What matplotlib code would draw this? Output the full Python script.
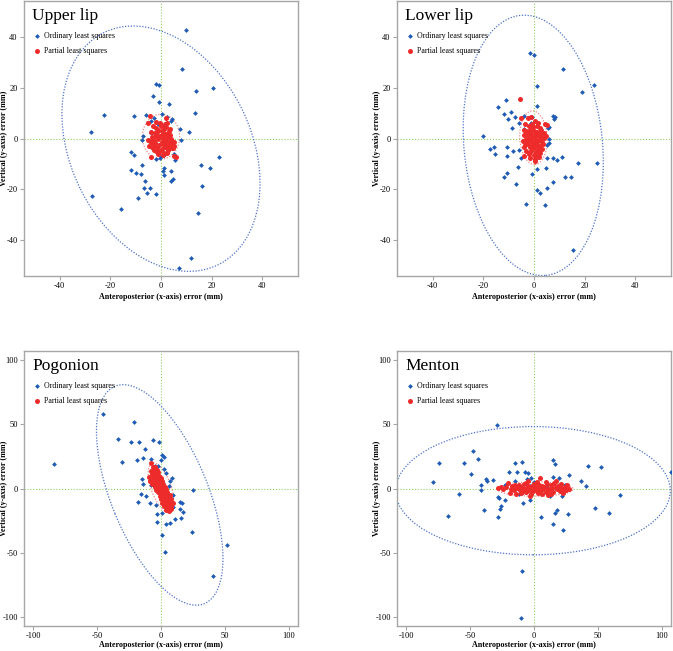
import numpy as np
import matplotlib
matplotlib.use("Agg")
import matplotlib.pyplot as plt
from matplotlib.patches import Ellipse

plt.rcParams['font.family'] = ['Liberation Serif', 'DejaVu Serif']
plt.rcParams['axes.unicode_minus'] = False

# ---- data (x, y) errors in mm ----
upper_ols = [(9.9, 42.6), (8.1, 27.1), (-1.8, 21.3), (-0.7, 20.9), (13.7, 18.8), (20.3, 20.0),
             (-3.0, 16.6), (-0.8, 14.2), (3.1, 13.6), (-22.5, 9.3), (-10.5, 8.8), (-6.0, 9.4),
             (13.5, 10.2), (0.3, 9.8), (2.2, 8.6), (4.2, 7.5), (3.9, 6.9), (-3.8, 6.8), (7.3, 3.9),
             (11.1, 2.4), (-27.6, 2.7), (-7.1, 0.8), (-7.6, -0.7), (7.8, -0.7), (-12.0, -5.2),
             (-10.6, -6.3), (23.0, -7.2), (5.0, -5.9), (5.4, -8.5), (1.2, -6.3), (-0.4, -7.5),
             (-7.3, -10.3), (15.7, -10.3), (19.5, -11.5), (-12.0, -12.3), (0.8, -12.7), (1.2, -11.4),
             (3.9, -12.8), (-9.8, -13.7), (-8.0, -14.0), (1.0, -14.4), (4.8, -16.1), (3.9, -16.6),
             (-6.3, -16.6), (16.1, -18.8), (-6.7, -19.3), (-4.4, -19.3), (-5.4, -21.4), (-2.0, -21.7),
             (-9.2, -23.4), (-27.1, -22.6), (-15.7, -27.8), (14.6, -29.2), (12.0, -47.1), (7.1, -50.7),
             (-2.7, 8.0), (-1.2, 5.6), (-1.0, 3.0), (2.0, -2.0), (-3.0, -4.0), (1.0, 5.0), (-4.0, 2.0),
             (3.0, 1.0), (0.0, -7.0), (-2.0, -8.0)]
upper_pls = [(-4.4, 9.0), (1.8, 8.2), (-1.8, 6.5), (-5.0, 6.0), (-3.8, -7.1), (5.2, -6.9), (5.8, -7.3),
             (5.0, -2.9), (5.2, -1.2), (2.5, -5.8), (-3.0, 5.0), (-2.0, 4.2), (-1.0, 3.5), (0.0, 4.8),
             (1.0, 3.8), (2.0, 4.5), (3.0, 3.0), (-4.0, 2.5), (-2.5, 2.0), (0.5, 2.8), (1.5, 1.8),
             (2.8, 2.2), (3.5, 1.5), (-3.5, 0.5), (-1.5, 1.0), (-0.5, 0.8), (0.8, 0.2), (2.2, 0.6),
             (4.0, 0.0), (-5.2, -0.5), (-4.5, -1.0), (-2.8, -0.8), (-1.2, -0.3), (0.3, -1.5), (1.2, -0.6),
             (2.5, -1.2), (3.8, -0.9), (4.5, -2.0), (-3.2, -2.2), (-2.2, -1.8), (-0.8, -2.6), (0.6, -2.0),
             (1.8, -2.8), (3.2, -2.4), (-4.8, -3.0), (-3.6, -3.5), (-2.4, -3.2), (-1.4, -3.8), (0.2, -4.0),
             (1.4, -3.4), (2.6, -4.2), (4.2, -3.6), (-2.0, -5.0), (-0.2, -4.8), (1.0, -5.5), (2.9, -4.4),
             (-3.0, 0.3), (-1.6, 2.4), (0.4, 1.2), (2.0, -0.2), (3.4, 3.6), (-1.0, -6.0), (0.9, -6.5),
             (-2.6, -4.6), (1.6, 5.6), (-0.4, 6.0), (2.4, 6.2), (-3.8, -1.4), (4.8, -3.6), (-1.8, 1.4)]

lower_ols = [(-1.7, 33.5), (-0.1, 32.7), (11.6, 27.1), (23.7, 20.9), (1.2, 20.8), (19.0, 18.4),
             (-11.0, 15.0), (-14.0, 12.2), (1.2, 12.7), (-12.0, 9.8), (-9.2, 10.6), (-10.2, 7.8),
             (-7.6, 8.5), (-4.1, 9.0), (-0.8, 8.4), (7.6, 8.8), (8.1, 8.5), (8.0, 7.8), (-5.8, 6.0),
             (-8.6, 4.1), (5.4, 4.3), (5.8, 4.7), (-4.1, 3.7), (-20.0, 1.0), (6.1, 0.0), (5.9, -1.6),
             (5.0, -2.6), (-17.5, -4.1), (-15.8, -3.5), (-10.6, -3.3), (-15.4, -5.9), (-8.1, -4.8),
             (-5.8, -4.6), (-10.5, -6.8), (-5.1, -7.7), (7.5, -7.5), (10.9, -7.1), (9.0, -8.5),
             (5.0, -7.7), (17.5, -9.5), (25.0, -9.5), (-6.4, -11.1), (1.3, -11.9), (4.6, -11.4),
             (-10.6, -13.5), (-12.0, -15.0), (12.3, -15.0), (14.4, -15.2), (-0.8, -14.1), (7.5, -16.9),
             (-7.2, -18.0), (1.0, -20.1), (2.5, -21.4), (5.0, -19.5), (-3.1, -25.6), (4.4, -26.3),
             (15.4, -43.8), (1.6, -7.1), (0.0, -3.0), (1.0, 2.0), (-2.0, -1.0), (2.0, -5.0), (-1.0, 6.0)]
lower_pls = [(-5.6, 15.4), (-5.0, 8.0), (-2.5, 8.2), (-1.0, 8.4), (0.5, 7.0), (1.5, 6.0), (-3.5, 5.5),
             (-2.0, 5.0), (-0.5, 4.5), (1.0, 4.8), (2.5, 4.0), (4.5, 5.5), (5.0, 5.2), (-4.0, 3.5),
             (-3.0, 3.0), (-1.5, 3.2), (0.0, 3.0), (1.2, 2.5), (2.8, 2.2), (3.8, 2.0), (-3.8, 1.5),
             (-2.5, 1.2), (-1.0, 1.8), (0.5, 1.0), (1.8, 0.8), (3.0, 0.5), (-3.2, 0.0), (-2.0, -0.2),
             (-0.8, 0.3), (0.8, -0.4), (2.2, -0.2), (4.0, 0.2), (-4.2, -1.0), (-2.8, -1.2), (-1.2, -0.8),
             (0.2, -1.5), (1.5, -1.0), (3.2, -1.4), (-3.5, -2.5), (-2.2, -2.2), (-0.5, -2.6), (1.0, -2.4),
             (2.5, -2.8), (-4.0, -3.5), (-1.5, -3.4), (0.0, -3.8), (1.8, -3.6), (3.0, -4.0), (-3.0, -4.8),
             (-1.0, -5.0), (0.8, -5.2), (2.2, -5.5), (-2.0, -6.2), (0.0, -6.5), (1.5, -6.8), (-3.8, -6.8),
             (-1.5, -7.8), (0.5, -8.0), (2.0, -7.2), (0.2, -9.0), (1.0, 1.5), (-0.3, -1.8), (2.6, 3.2),
             (-2.6, 2.6), (0.6, 2.2), (-1.8, -0.4), (3.6, -2.0), (4.6, 1.0), (-0.6, 5.8), (1.6, -4.4)]

pog_ols = [(-83.5, 19.4), (-45.0, 57.9), (-20.7, 52.1), (-33.2, 38.2), (-23.3, 36.1), (-17.3, 36.1),
           (-6.3, 38.0), (-1.8, 36.1), (-12.3, 30.9), (-30.4, 20.7), (-19.1, 22.0), (-14.1, 23.8),
           (-7.6, 23.0), (1.0, 26.4), (2.4, 24.9), (0.3, 22.5), (2.1, 15.2), (-2.1, 17.3), (-4.7, 17.8),
           (-15.2, 7.1), (-14.1, 3.7), (8.4, 7.9), (7.1, 6.0), (6.5, 2.1), (25.1, -1.0), (-15.4, -4.2),
           (-12.0, -5.8), (-18.3, -10.2), (-8.4, -11.3), (-3.9, -12.6), (14.9, -10.7), (16.2, -11.5),
           (17.5, -18.3), (14.9, -15.7), (7.3, -15.2), (9.2, -14.1), (1.0, -18.8), (-2.9, -20.2),
           (11.3, -23.8), (16.0, -23.3), (-2.9, -25.9), (7.1, -27.0), (3.7, -28.0), (0.8, -36.4),
           (24.3, -33.8), (2.9, -49.5), (51.8, -44.2), (40.6, -67.8), (0.0, -2.6), (-4.0, 12.0),
           (2.0, -5.0), (-8.0, 3.0), (6.0, -8.0), (-3.0, 5.0), (9.0, -5.0), (4.0, 12.0)]
pog_pls = [(-7.5, 19.5), (-6.0, 17.0), (-4.5, 16.5), (-8.0, 14.0), (-5.5, 13.5), (-3.5, 14.5), (-2.5, 13.0),
           (-7.0, 11.0), (-5.0, 10.5), (-3.0, 11.0), (-1.5, 10.0), (-9.0, 9.0), (-6.5, 8.5), (-4.0, 8.0),
           (-2.0, 7.5), (0.0, 8.5), (-8.5, 6.0), (-5.5, 5.5), (-3.5, 6.0), (-1.0, 5.5), (1.0, 6.0),
           (-7.0, 3.5), (-4.5, 3.0), (-2.5, 4.0), (-0.5, 3.0), (1.5, 3.5), (-5.0, 1.0), (-3.0, 1.5),
           (-1.0, 0.5), (1.0, 1.0), (3.0, 1.5), (-4.0, -1.0), (-2.0, -0.5), (0.0, -1.5), (2.0, -1.0),
           (4.0, -0.5), (-2.5, -3.0), (-0.5, -3.5), (1.5, -3.0), (3.5, -3.5), (5.0, -2.5), (-1.0, -5.5),
           (1.0, -6.0), (3.0, -5.5), (5.0, -6.0), (7.0, -5.0), (0.0, -8.0), (2.0, -8.5), (4.0, -8.0),
           (6.0, -9.0), (8.0, -8.0), (1.0, -11.0), (3.0, -11.5), (5.0, -11.0), (7.0, -12.0), (9.0, -11.0),
           (2.5, -14.0), (5.0, -14.5), (7.5, -14.0), (4.0, -17.0), (6.0, -17.5), (8.0, -16.0),
           (-6.0, 12.5), (-3.0, 9.0), (-1.0, 2.5), (2.5, -4.5), (4.5, -10.0), (-5.5, 15.0), (0.5, -2.0),
           (3.0, -7.0)]

men_ols = [(-29.1, 49.7), (-47.9, 28.8), (-44.0, 23.3), (-74.1, 19.9), (-54.5, 20.2), (-49.5, 11.3),
           (-78.8, 4.7), (-58.6, -4.2), (-66.8, -21.2), (-41.1, 2.6), (-41.4, -1.3), (-37.7, 7.1),
           (-36.6, 6.0), (-38.7, -17.0), (-31.7, 6.3), (-28.3, -6.5), (-27.2, -7.3), (-28.5, -22.5),
           (-25.7, -13.6), (-26.2, -15.7), (-22.3, -9.2), (-22.8, 2.9), (-19.9, 13.1), (-15.2, 20.2),
           (-13.4, 12.8), (-14.7, 6.0), (-9.2, 20.9), (-6.8, 13.1), (-5.0, 11.8), (-5.2, 7.1),
           (-2.6, 8.1), (-8.6, -11.5), (-2.9, -8.9), (-9.4, -64.1), (-10.5, -100.8), (15.2, 22.5),
           (16.2, 19.4), (14.9, 8.6), (19.6, 7.9), (27.2, 10.5), (5.8, -22.5), (15.2, -27.7),
           (16.2, -19.1), (18.3, -17.0), (22.5, -32.2), (26.4, -20.2), (24.6, 2.9), (21.5, -5.8),
           (12.3, -5.8), (36.6, 5.5), (40.3, 1.6), (42.1, 17.3), (52.6, 16.5), (47.4, -14.9),
           (58.6, -18.8), (67.3, -5.2), (106.8, 12.6), (-3.0, 2.0), (5.0, -2.0), (10.0, 1.0),
           (-12.0, -4.0), (0.0, 5.0)]
men_pls = [(-28, 0.5), (-26, 1.5), (-24, -0.5), (-22, 1.0), (-20, 4.5), (-19, -3.5), (-17, 2.0), (-16, -1.5),
           (-15, 3.0), (-14, -4.5), (-13, 0.5), (-12, 2.5), (-11, -1.0), (-10, 1.5), (-9, -2.5), (-8, 3.5),
           (-7, 0.0), (-6, -3.0), (-5, 6.0), (-5, 2.0), (-4, -1.5), (-3, 1.0), (-2, -4.0), (-1, 2.5),
           (0, -0.5), (1, 1.5), (2, -2.0), (3, 0.5), (4, 3.0), (5, 8.5), (5, -1.0), (6, 2.0), (7, -0.5),
           (8, 1.0), (9, -2.5), (10, 3.5), (11, 0.0), (12, -1.5), (13, 2.5), (14, 0.5), (15, -3.0),
           (16, 4.0), (17, 1.5), (18, -0.5), (19, 2.0), (20, -2.0), (21, 3.5), (22, 0.0), (23, -3.5),
           (24, 1.5), (25, -1.0), (26, 2.5), (27, 0.0), (-18, 0.0), (-8, -0.5), (-6, 4.5), (0, 3.5),
           (3, -3.5), (9, 5.0), (13, -4.0), (17, 5.5), (-10, -3.5), (2, 5.0), (-3, -6.0), (11, -5.0),
           (6, -4.5), (20, 1.0), (-1, -2.0)]

# ellipse params: centre x, centre y, width, height, angle
upper_ell = [(0.0, -4.0, 101.7, 71.0, -63.5), (0.0, 0.7, 14.7, 17.6, 0)]
lower_ell = [(-0.3, -2.7, 54.6, 102.6, 5.5), (-0.2, 0.3, 10.8, 21.1, 3)]
pog_ell = [(-1.0, -5.0, 183.0, 75.7, -67.6), (0.0, 0.8, 40.2, 15.5, -70)]
men_ell = [(-0.8, -1.7, 214.5, 99.8, 0), (1.0, -0.4, 59.0, 11.2, 0)]

BLUE = '#1f5bb5'
RED = '#ee2b2b'
GRAY = '#a6a6a6'


def draw_panel(ax, title, ols, pls, ells, lim, ticks, xlab_y):
    ols = np.array(ols)
    pls = np.array(pls)
    ax.axhline(0, color='#8fcf62', lw=0.8, ls=(0, (1, 1.6)), zorder=1)
    ax.axvline(0, color='#8fcf62', lw=0.8, ls=(0, (1, 1.6)), zorder=1)
    ax.scatter(ols[:, 0], ols[:, 1], marker='D', s=6, color=BLUE, lw=0,
               label='Ordinary least squares', zorder=3)
    ax.scatter(pls[:, 0], pls[:, 1], marker='o', s=13, color=RED, lw=0,
               label='Partial least squares', zorder=4)
    cols = ['#4f73c8', '#f08a8a']
    for (cx, cy, w, h, a), c in zip(ells, cols):
        ax.add_patch(Ellipse((cx, cy), w, h, angle=a, fill=False, ec=c,
                             lw=0.9, ls=(0, (1, 1.3)), zorder=2))
    ax.set_xlim(-lim, lim)
    ax.set_ylim(-lim, lim)
    ax.set_xticks(ticks)
    ax.set_yticks(ticks)
    for s in ax.spines.values():
        s.set_color(GRAY)
        s.set_linewidth(1.0)
    ax.tick_params(direction='out', length=3, width=0.8, color=GRAY,
                   labelsize=6, pad=1.5)
    ax.set_xlabel('Anteroposterior (x-axis) error (mm)', fontsize=5.8,
                  fontweight='bold', va='center')
    ax.set_ylabel('Vertical (y-axis) error (mm)', fontsize=5.8,
                  fontweight='bold', va='center')
    ax.xaxis.set_label_coords(0.5, xlab_y)
    ax.yaxis.set_label_coords(-0.073, 0.5)
    ax.text(0.03, 0.975, title, transform=ax.transAxes, fontsize=12.5,
            va='top', ha='left')
    ax.legend(loc='upper left', bbox_to_anchor=(0.02, 0.9), frameon=False,
              fontsize=5.7, handletextpad=0.2, labelspacing=0.9,
              borderaxespad=0, handlelength=1.2)


fig = plt.figure(figsize=(6.73, 6.51), dpi=100)
W, H = 673, 651
boxes = [(24, 1), (397, 1), (24, 351), (397, 351)]
axes = [fig.add_axes([x / W, 1 - (y + 275) / H, 274 / W, 275 / H]) for x, y in boxes]

draw_panel(axes[0], 'Upper lip', upper_ols, upper_pls, upper_ell, 54, [-40, -20, 0, 20, 40], -0.075)
draw_panel(axes[1], 'Lower lip', lower_ols, lower_pls, lower_ell, 54, [-40, -20, 0, 20, 40], -0.075)
draw_panel(axes[2], 'Pogonion', pog_ols, pog_pls, pog_ell, 107, [-100, -50, 0, 50, 100], -0.068)
draw_panel(axes[3], 'Menton', men_ols, men_pls, men_ell, 107, [-100, -50, 0, 50, 100], -0.068)

fig.savefig('out.png', dpi=100)
